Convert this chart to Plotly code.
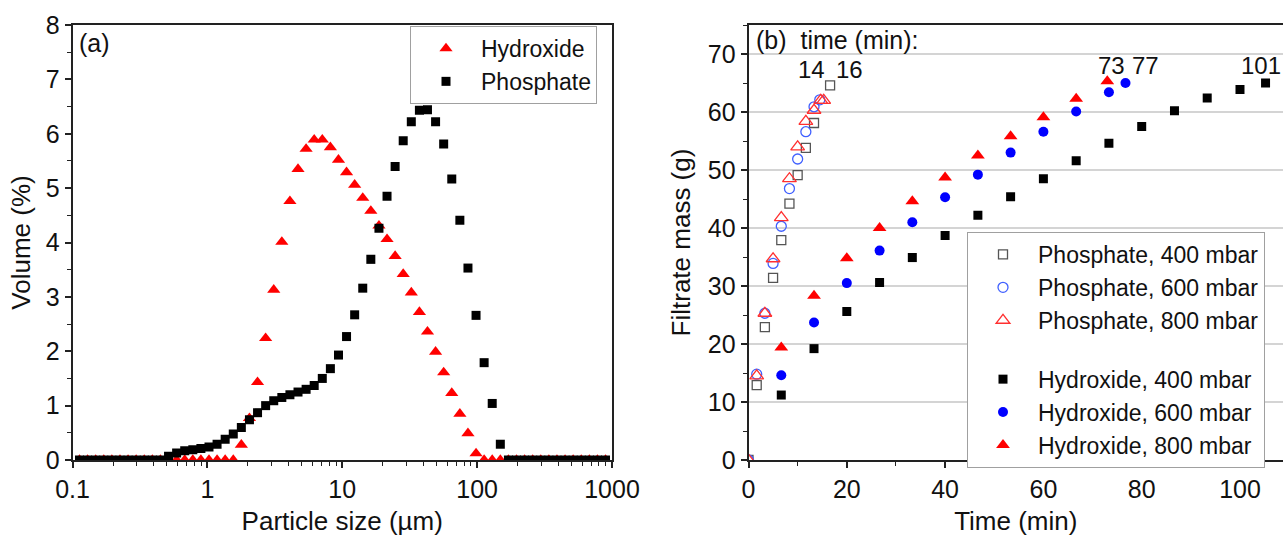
import plotly.graph_objects as go

FONT = "Liberation Sans, Arial, sans-serif"
W, H = 1283, 543

# ---------------- Panel (a): particle size distribution ----------------
size_um = [0.1127, 0.1294, 0.1486, 0.1706, 0.1959, 0.2249, 0.2582, 0.2965, 0.3404, 0.3908,
           0.4487, 0.5152, 0.5916, 0.6792, 0.7798, 0.8954, 1.028, 1.180, 1.355, 1.556,
           1.786, 2.051, 2.355, 2.704, 3.105, 3.565, 4.093, 4.699, 5.395, 6.194,
           7.112, 8.166, 9.376, 10.76, 12.36, 14.19, 16.29, 18.71, 21.48, 24.66,
           28.31, 32.51, 37.33, 42.85, 49.20, 56.49, 64.86, 74.47, 85.51, 98.17,
           112.7, 129.4, 148.6, 170.6, 195.9, 224.9, 258.2, 296.5, 340.4, 390.8,
           448.7, 515.2, 591.6, 679.2, 779.8, 895.4]

hydroxide_vol = [0, 0, 0, 0, 0, 0, 0, 0, 0, 0,
                 0, 0, 0, 0, 0, 0, 0, 0, 0, 0,
                 0.28, 0.77, 1.43, 2.24, 3.13, 4.01, 4.76, 5.35, 5.72, 5.89,
                 5.89, 5.75, 5.52, 5.29, 5.06, 4.82, 4.58, 4.31, 4.06, 3.75,
                 3.42, 3.08, 2.72, 2.36, 1.99, 1.61, 1.23, 0.85, 0.49, 0.12,
                 0, 0, 0, 0, 0, 0, 0, 0, 0, 0,
                 0, 0, 0, 0, 0, 0]

phosphate_vol = [0, 0, 0, 0, 0, 0, 0, 0, 0, 0,
                 0, 0.07, 0.13, 0.17, 0.19, 0.21, 0.24, 0.29, 0.38, 0.48,
                 0.60, 0.74, 0.87, 1.00, 1.09, 1.15, 1.20, 1.25, 1.30, 1.37,
                 1.50, 1.68, 1.93, 2.27, 2.67, 3.16, 3.69, 4.26, 4.85, 5.40,
                 5.87, 6.22, 6.43, 6.44, 6.22, 5.81, 5.17, 4.41, 3.53, 2.66,
                 1.79, 1.04, 0.29, 0, 0, 0, 0, 0, 0, 0,
                 0, 0, 0, 0, 0, 0]

# ---------------- Panel (b): filtrate mass vs time ----------------
p400_t = [0, 1.67, 3.33, 5.0, 6.67, 8.33, 10.0, 11.67, 13.33, 16.6]
p400_m = [0, 12.9, 22.9, 31.4, 37.9, 44.2, 49.1, 53.8, 58.1, 64.6]
p600_t = [0, 1.67, 3.33, 5.0, 6.67, 8.33, 10.0, 11.67, 13.33, 14.5]
p600_m = [0, 14.8, 25.3, 33.9, 40.3, 46.8, 51.9, 56.6, 60.9, 62.1]
p800_t = [0, 1.67, 3.33, 5.0, 6.67, 8.33, 10.0, 11.67, 13.33, 14.7, 15.3]
p800_m = [0, 14.5, 25.3, 34.7, 41.8, 48.5, 54.0, 58.4, 60.3, 62.0, 62.0]

h400_t = [6.67, 13.33, 20, 26.67, 33.33, 40, 46.67, 53.33, 60, 66.67, 73.33, 80, 86.67, 93.33, 100, 105.2]
h400_m = [11.2, 19.2, 25.6, 30.6, 34.9, 38.7, 42.2, 45.4, 48.5, 51.6, 54.6, 57.5, 60.2, 62.4, 63.9, 65.0]
h600_t = [6.67, 13.33, 20, 26.67, 33.33, 40, 46.67, 53.33, 60, 66.67, 73.33, 76.7]
h600_m = [14.6, 23.7, 30.5, 36.1, 41.0, 45.3, 49.2, 53.0, 56.6, 60.1, 63.4, 65.0]
h800_t = [6.67, 13.33, 20, 26.67, 33.33, 40, 46.67, 53.33, 60, 66.67, 73.0]
h800_m = [19.4, 28.3, 34.8, 40.0, 44.6, 48.7, 52.5, 55.8, 59.1, 62.3, 65.3]

end_labels = ["14", "16", "73", "77", "101"]
end_label_t = [12.9, 20.5, 73.9, 80.7, 108.7]
end_label_m = [67.3, 67.3, 68.0, 68.0, 68.0]
end_label_anchor = ["center", "center", "center", "center", "right"]

x_ticks_a = [0.1, 1, 10, 100, 1000]
x_ticktext_a = ["0.1", "1", "10", "100", "1000"]
minor_log = [m * 10.0 ** e for e in range(-1, 3) for m in range(2, 10)]

RED = "#ff0000"
BLUE = "#0000ff"
BLACK = "#000000"

fig = go.Figure()

fig.add_trace(go.Scatter(x=size_um, y=hydroxide_vol, mode="markers", name="Hydroxide",
                         marker=dict(symbol="triangle-up", size=11.5, color=RED, line=dict(width=0)),
                         xaxis="x", yaxis="y", legend="legend"))
fig.add_trace(go.Scatter(x=size_um, y=phosphate_vol, mode="markers", name="Phosphate",
                         marker=dict(symbol="square", size=9, color=BLACK, line=dict(width=0)),
                         xaxis="x", yaxis="y", legend="legend"))

right_series = [
    ("Phosphate, 400 mbar", p400_t, p400_m, "square-open", 9, "#555555", "p"),
    ("Phosphate, 600 mbar", p600_t, p600_m, "circle-open", 10, "#4060ff", "p"),
    ("Phosphate, 800 mbar", p800_t, p800_m, "triangle-up-open", 12, "#ff3030", "p"),
    ("Hydroxide, 400 mbar", h400_t, h400_m, "square", 9, BLACK, "h"),
    ("Hydroxide, 600 mbar", h600_t, h600_m, "circle", 10, BLUE, "h"),
    ("Hydroxide, 800 mbar", h800_t, h800_m, "triangle-up", 12, RED, "h"),
]
for name, t, m, sym, sz, col, grp in right_series:
    if sym.endswith("open"):
        mk = dict(symbol=sym, size=sz, color=col, line=dict(width=1.3, color=col))
    else:
        mk = dict(symbol=sym, size=sz, color=col, line=dict(width=0))
    fig.add_trace(go.Scatter(x=t, y=m, mode="markers", name=name, marker=mk,
                             xaxis="x2", yaxis="y2", legend="legend2", legendgroup=grp))

L0, L1 = 72.5 / W, 612 / W
R0, R1 = 748.5 / W, 1.0
YB, YT = 1 - 460 / H, 1 - 25 / H

axis_common = dict(showline=True, linecolor="#222222", linewidth=1.8,
                   ticks="outside", ticklen=6, tickwidth=1.5, tickcolor="#222222",
                   tickfont=dict(size=25, color="#111111", family=FONT),
                   zeroline=False, showgrid=False)

fig.update_layout(
    width=W, height=H,
    margin=dict(l=0, r=0, t=0, b=0, autoexpand=False),
    paper_bgcolor="white", plot_bgcolor="white",
    font=dict(family=FONT, size=25, color="#111111"),
    xaxis=dict(**axis_common, type="log", range=[-1, 3], domain=[L0, L1], anchor="y", mirror=True,
               tickvals=x_ticks_a, ticktext=x_ticktext_a,
               minor=dict(tickvals=minor_log, ticks="outside", ticklen=4, tickwidth=1.2, tickcolor="#222222"),
               title=dict(text="Particle size (µm)", font=dict(size=26), standoff=10)),
    yaxis=dict(**axis_common, range=[0, 8], dtick=1, domain=[YB, YT], anchor="x", mirror=True,
               minor=dict(dtick=0.5, ticks="outside", ticklen=4, tickwidth=1.2, tickcolor="#222222"),
               title=dict(text="Volume (%)", font=dict(size=26), standoff=8)),
    xaxis2=dict(**axis_common, range=[0, 108.75], dtick=20, domain=[R0, R1], anchor="y2", mirror=True,
                minor=dict(dtick=10, ticks="outside", ticklen=4, tickwidth=1.2, tickcolor="#222222"),
                title=dict(text="Time (min)", font=dict(size=26), standoff=10)),
    yaxis2=dict(**{**axis_common, "showgrid": True}, range=[0, 75], dtick=10, domain=[YB, YT], anchor="x2",
                gridcolor="#d4d4d4", gridwidth=1.5,
                minor=dict(dtick=5, ticks="outside", ticklen=4, tickwidth=1.2, tickcolor="#222222"),
                title=dict(text="Filtrate mass (g)", font=dict(size=26), standoff=10)),
    legend=dict(x=410 / W, y=1 - 26 / H, xanchor="left", yanchor="top",
                bordercolor="#a0a0a0", borderwidth=1, bgcolor="white",
                font=dict(size=23, family=FONT), itemwidth=60),
    legend2=dict(x=967 / W, y=1 - 232 / H, xanchor="left", yanchor="top",
                 bordercolor="#a0a0a0", borderwidth=1, bgcolor="white",
                 font=dict(size=23, family=FONT), itemwidth=60,
                 traceorder="grouped", tracegroupgap=26),
    showlegend=True,
)

annotations = [
    dict(text="(a)", x=77 / W, y=1 - 43 / H, xref="paper", yref="paper",
         xanchor="left", yanchor="middle", showarrow=False, font=dict(size=25)),
    dict(text="(b)\u00a0\u00a0time (min):", x=754 / W, y=1 - 40.5 / H, xref="paper", yref="paper",
         xanchor="left", yanchor="middle", showarrow=False, font=dict(size=25)),
]
for lab, t, m, anc in zip(end_labels, end_label_t, end_label_m, end_label_anchor):
    annotations.append(dict(text=lab, x=t, y=m, xref="x2", yref="y2", xanchor=anc,
                            yanchor="middle", showarrow=False, font=dict(size=24)))
fig.update_layout(annotations=annotations)

fig.write_html("out.html", config={"displayModeBar": False},
               post_script="document.body.style.margin='0px';")
